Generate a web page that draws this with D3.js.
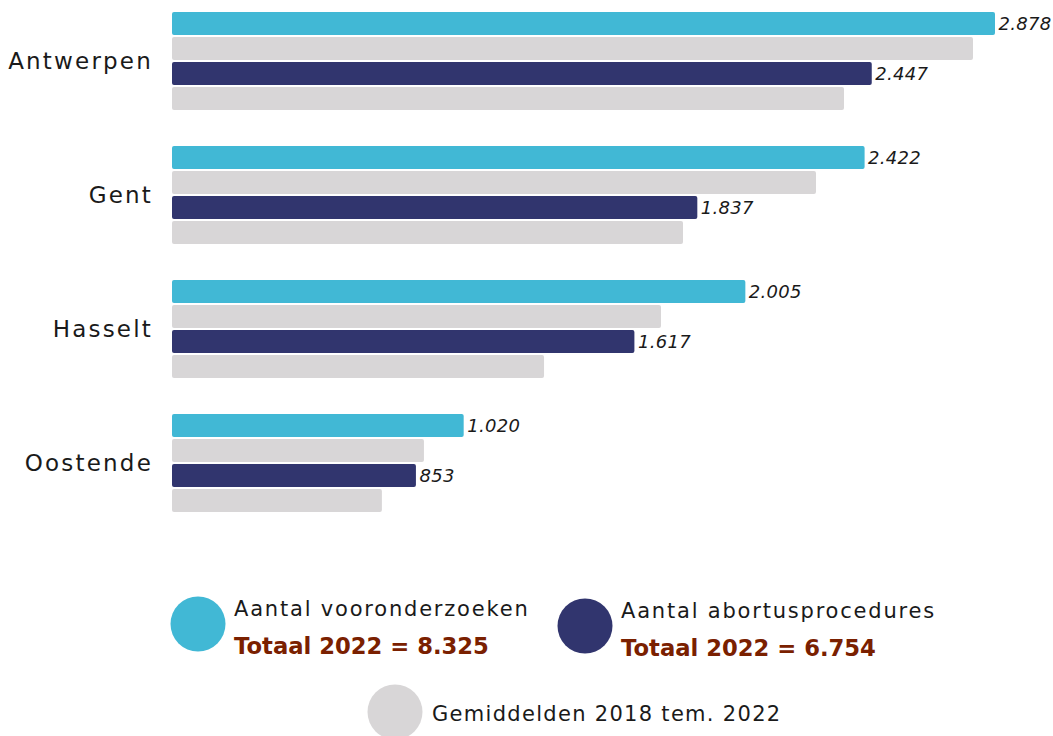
<!DOCTYPE html>
<html><head><meta charset="utf-8">
<script src="https://cdn.jsdelivr.net/npm/d3@7"></script>
<style>body{margin:0;background:#fff}svg{display:block}</style>
</head><body><svg id="c" width="1053" height="736"></svg>
<script>
const categories = ["Antwerpen","Gent","Hasselt","Oostende"];
const seriesNames = ["Aantal vooronderzoeken","Gem. vooronderzoeken","Aantal abortusprocedures","Gem. abortusprocedures"];
const vooronderzoeken = [2878,2422,2005,1020];
const gemVooronderzoeken = [2801,2252,1710,881];
const abortus = [2447,1837,1617,853];
const gemAbortus = [2350,1787,1301,734];
const labeled = [true,false,true,false];
const colors = ["#41B8D5","#D8D6D7","#31356E","#D8D6D7"];
const legendItems = [
  {name:"Aantal vooronderzoeken", total:"Totaal 2022 = 8.325", color:"#41B8D5"},
  {name:"Aantal abortusprocedures", total:"Totaal 2022 = 6.754", color:"#31356E"},
  {name:"Gemiddelden 2018 tem. 2022", total:null, color:"#D8D6D7"}
];
const fmt = v => d3.format(",")(v).replace(/,/g,".");
const FONT = "'DejaVu Sans', sans-serif";

const svg = d3.select("#c");
const series = [vooronderzoeken,gemVooronderzoeken,abortus,gemAbortus];

const x = d3.scaleLinear().domain([0,2878]).range([172,995]);
const y0 = d3.scaleBand().domain(categories).range([12,512]).paddingInner(36/134).paddingOuter(0);
const y1 = d3.scaleBand().domain(d3.range(4)).range([0,y0.bandwidth()]).paddingInner(0.08);

const g = svg.append("g");
categories.forEach((c,i)=>{
  const gg = g.append("g").attr("transform",`translate(0,${y0(c)})`);
  series.forEach((s,j)=>{
    gg.append("rect").attr("x",x(0)).attr("y",y1(j)).attr("width",x(s[i])-x(0))
      .attr("height",y1.bandwidth()).attr("rx",2).attr("fill",colors[j]);
    if(labeled[j]){
      gg.append("text").attr("x",x(s[i])+3.5).attr("y",y1(j)+y1.bandwidth()/2)
        .attr("dy","0.36em").attr("font-family",FONT).attr("font-style","italic")
        .attr("font-size",18).attr("letter-spacing",0.3).attr("fill","#1a1a1a").text(fmt(s[i]));
    }
  });
  gg.append("text").attr("x",153).attr("y",y0.bandwidth()/2).attr("dy","0.36em")
    .attr("text-anchor","end").attr("font-family",FONT).attr("font-size",23)
    .attr("letter-spacing",2.2).attr("fill","#1a1a1a").text(c);
});

const legendPos = [{cx:198,cy:624},{cx:585,cy:626},{cx:395,cy:712}];
legendItems.forEach((d,i)=>{
  const p = legendPos[i];
  svg.append("circle").attr("cx",p.cx).attr("cy",p.cy).attr("r",27.5).attr("fill",d.color);
  if(d.total){
    svg.append("text").attr("x",p.cx+36).attr("y",p.cy-8).attr("font-family",FONT)
      .attr("font-size",21).attr("letter-spacing",1.8).attr("fill","#1a1a1a").text(d.name);
    svg.append("text").attr("x",p.cx+36).attr("y",p.cy+29.5).attr("font-family",FONT)
      .attr("font-weight","bold").attr("font-size",22.7).attr("fill","#7A2000").text(d.total);
  } else {
    svg.append("text").attr("x",p.cx+37).attr("y",p.cy+9).attr("font-family",FONT)
      .attr("font-size",21).attr("letter-spacing",1.3).attr("fill","#1a1a1a").text(d.name);
  }
});
</script></body></html>
